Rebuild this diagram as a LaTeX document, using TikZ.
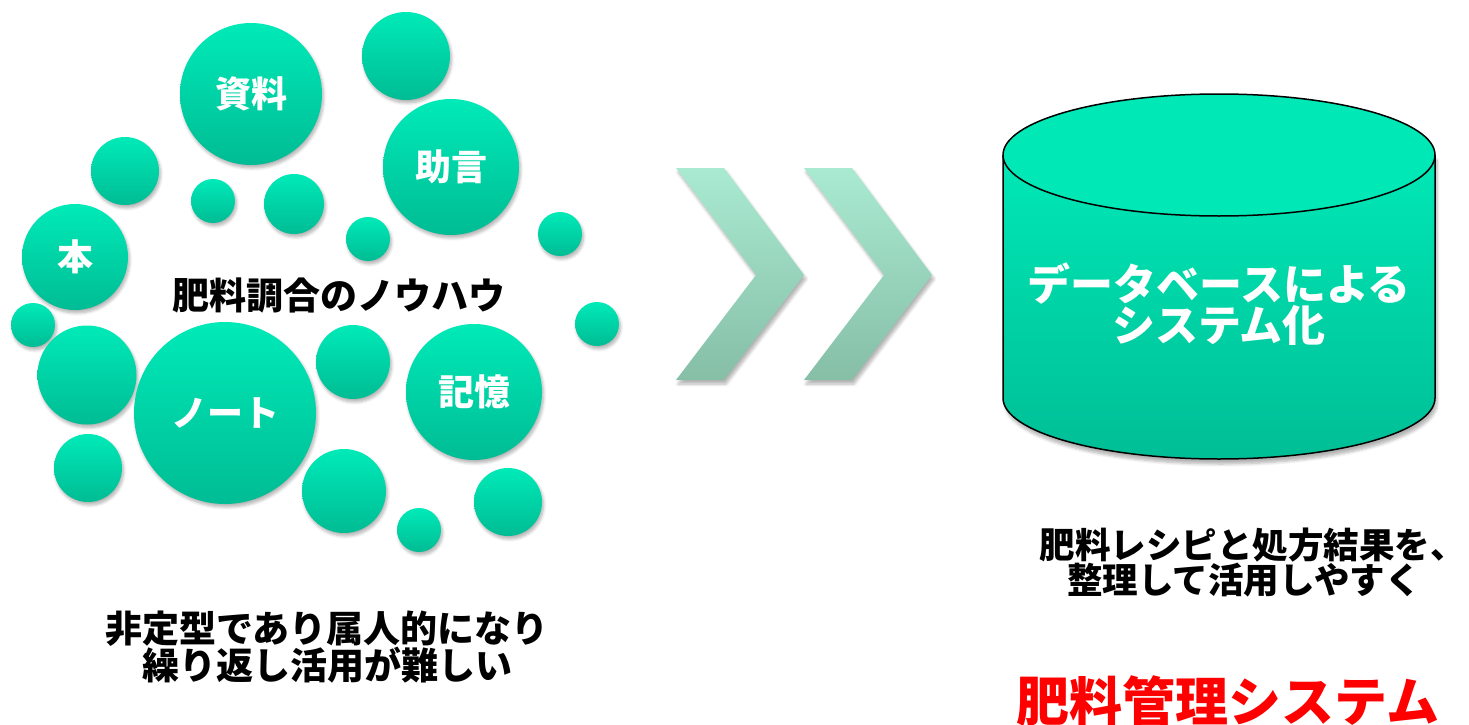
\documentclass[tikz,border=0pt]{standalone}
\usepackage{fontspec}
\newfontfamily\jp{Noto Sans CJK JP}
\usetikzlibrary{shadows.blur}
\definecolor{bubtop}{RGB}{0,234,184}
\definecolor{bubbot}{RGB}{0,188,148}
\definecolor{chevtop}{RGB}{170,234,210}
\definecolor{chevbot}{RGB}{134,190,166}
\definecolor{cyltop}{RGB}{0,232,182}
\definecolor{cylbot}{RGB}{0,190,150}
\definecolor{titlered}{RGB}{255,0,0}
\tikzset{
  bubble/.style={circle, inner sep=0pt, minimum size=#1, top color=bubtop, bottom color=bubbot,
    blur shadow={shadow xshift=1.5pt, shadow yshift=-3pt, shadow blur steps=6, shadow opacity=30, shadow blur radius=3pt},
    text=white, font=\jp\bfseries\fontsize{36}{40}\selectfont},
  chev/.style={top color=chevtop, bottom color=chevbot,
    blur shadow={shadow xshift=2pt, shadow yshift=-4pt, shadow blur steps=6, shadow opacity=30, shadow blur radius=3pt}},
  blacktext/.style={text=black, align=center, inner sep=0pt},
  cylline/.style={line width=1.5pt},
}
\begin{document}
\begin{tikzpicture}[x=1pt,y=-1pt]
\useasboundingbox (0,0) rectangle (1469,725);
% bubbles
\node[bubble=142] (shiryo) at (251,94) {資料};
\node[bubble=88] (b2) at (406,56) {};
\node[bubble=136] (jogen) at (451,167) {助言};
\node[bubble=68] (b4) at (125,171) {};
\node[bubble=44] (b5) at (213,201) {};
\node[bubble=60] (b6) at (294,204) {};
\node[bubble=44] (b7) at (368,239) {};
\node[bubble=44] (b8) at (560,234) {};
\node[bubble=106] (hon) at (75,257) {本};
\node[bubble=44] (b10) at (33,325) {};
\node[bubble=44] (b11) at (597,324) {};
\node[bubble=99] (b12) at (87,375) {};
\node[bubble=182] (note) at (225,413) {ノート};
\node[bubble=74] (b14) at (353,362) {};
\node[bubble=136] (kioku) at (474,392) {記憶};
\node[bubble=68] (b16) at (88,468) {};
\node[bubble=84] (b17) at (344,491) {};
\node[bubble=44] (b18) at (419,530) {};
\node[bubble=68] (b19) at (508,502) {};
\node[blacktext, font=\jp\bfseries\fontsize{37}{40}\selectfont] (knowhow) at (339,295) {肥料調合のノウハウ};
% chevrons
\path[chev] (676,168) -- (724,168) -- (804,275) -- (724,380) -- (676,380) -- (756,275) -- cycle;
\path[chev] (804,168) -- (852,168) -- (932,275) -- (852,380) -- (804,380) -- (884,275) -- cycle;
% cylinder
\path[top color=cyltop, bottom color=cylbot,
  blur shadow={shadow xshift=2pt, shadow yshift=-5pt, shadow blur steps=6, shadow opacity=30, shadow blur radius=3pt}]
  (1003,155) -- (1003,398)
  .. controls (1003,431.7) and (1099.7,459) .. (1219,459)
  .. controls (1338.3,459) and (1435,431.7) .. (1435,398)
  -- (1435,155) -- cycle;
\draw[cylline] (1003,155) -- (1003,398)
  .. controls (1003,431.7) and (1099.7,459) .. (1219,459)
  .. controls (1338.3,459) and (1435,431.7) .. (1435,398)
  -- (1435,155);
\draw[cylline, fill=cyltop] (1219,155) ellipse [x radius=216, y radius=61];
\node[text=white, align=center, inner sep=0pt, font=\jp\bfseries\fontsize{43}{40}\selectfont] (dbtext) at (1219,304) {データベースによる\\システム化};
% captions
\node[blacktext, font=\jp\bfseries\fontsize{37}{33}\selectfont] (leftcap) at (327,647) {非定型であり属人的になり\\繰り返し活用が難しい};
\node[blacktext, font=\jp\bfseries\fontsize{35.5}{35}\selectfont] (rightcap) at (1244,563) {肥料レシピと処方結果を、\hspace*{-0.5em}\\整理して活用しやすく};
\node[text=titlered, inner sep=0pt, font=\jp\bfseries\fontsize{53}{56}\selectfont] (title) at (1228,701) {肥料管理システム};
\end{tikzpicture}
\end{document}
